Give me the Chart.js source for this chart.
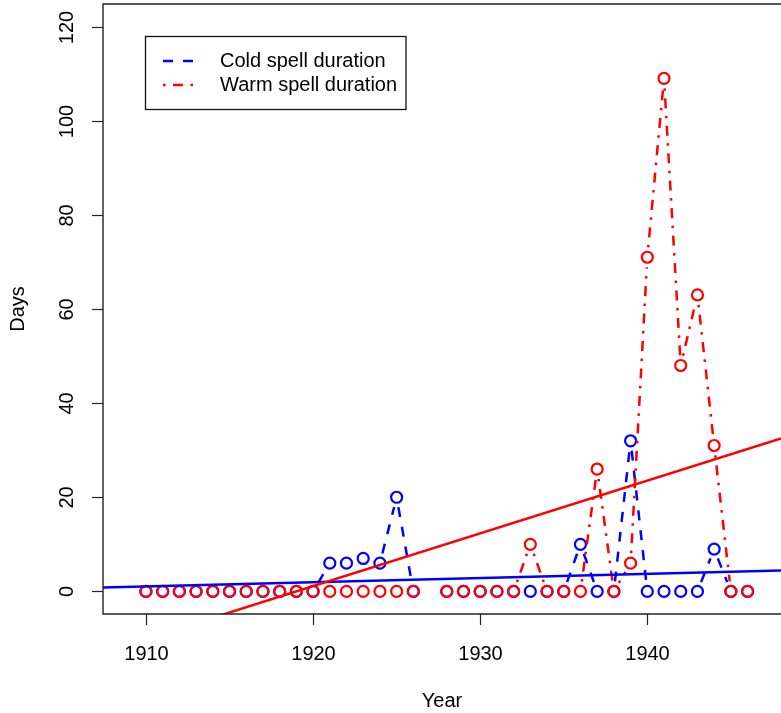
<!DOCTYPE html>
<html>
<head>
<meta charset="utf-8">
<script src="https://cdn.jsdelivr.net/npm/chart.js@4"></script>
<style>
  html, body { margin: 0; padding: 0; background: #fff; overflow: hidden; }
  #wrap { width: 781px; height: 713px; position: relative; }
  #myChart { display: block; }
</style>
</head>
<body>
<div id="wrap"><canvas id="myChart"></canvas></div>
<script>
// data
const years = [1910, 1911, 1912, 1913, 1914, 1915, 1916, 1917, 1918, 1919,
               1920, 1921, 1922, 1923, 1924, 1925, 1926, 1927, 1928, 1929,
               1930, 1931, 1932, 1933, 1934, 1935, 1936, 1937, 1938, 1939,
               1940, 1941, 1942, 1943, 1944, 1945, 1946];
const coldDays = [0, 0, 0, 0, 0, 0, 0, 0, 0, 0,
                  0, 6, 6, 7, 6, 20, 0, null, 0, 0,
                  0, 0, 0, 0, 0, 0, 10, 0, 0, 32,
                  0, 0, 0, 0, 9, 0, 0];
const warmDays = [0, 0, 0, 0, 0, 0, 0, 0, 0, 0,
                  0, 0, 0, 0, 0, 0, 0, null, 0, 0,
                  0, 0, 0, 10, 0, 0, 0, 26, 0, 6,
                  71, 109, 48, 63, 31, 0, 0];
const xTicks = [1910, 1920, 1930, 1940];
const yTicks = [0, 20, 40, 60, 80, 100, 120];
const seriesNames = ['Cold spell duration', 'Warm spell duration'];

const XMIN = 1907.43, XMAX = 1948.0;
const YMIN = -4.8, YMAX = 124.8;
const BLUE = '#0000ff', RED = '#ff0000';
const FONT = '20px "Liberation Sans", Arial, sans-serif';
const LWD = 2.5;
const GAP = 10; // R type="b" leaves a gap round each point

const pts = vals => years.map((y, i) => ({ x: y, y: vals[i] }));

// least squares line, like abline(lm(v ~ year))
function fit(vals) {
  const xs = [], ys = [];
  vals.forEach((v, i) => { if (v !== null) { xs.push(years[i]); ys.push(v); } });
  const n = xs.length;
  const mx = xs.reduce((a, b) => a + b, 0) / n;
  const my = ys.reduce((a, b) => a + b, 0) / n;
  let sxy = 0, sxx = 0;
  for (let i = 0; i < n; i++) {
    sxy += (xs[i] - mx) * (ys[i] - my);
    sxx += (xs[i] - mx) * (xs[i] - mx);
  }
  const b = sxy / sxx;
  const a = my - b * mx;
  return [{ x: XMIN, y: a + b * XMIN }, { x: XMAX, y: a + b * XMAX }];
}

// dash array for one segment so it stops GAP px short of both points
function gapDash(base, L) {
  const vis = L - 2 * GAP;
  if (vis <= 0) return [0, L];
  const arr = [0, GAP];
  if (!base) { arr.push(vis, GAP); return arr; }
  let rem = vis, i = 0;
  while (rem > 1e-6) {
    const d = Math.min(base[i % base.length], rem);
    arr.push(d);
    rem -= d;
    i++;
  }
  if (i % 2 === 1) arr.push(GAP); else arr.push(0, GAP);
  return arr;
}
const segDash = base => ctx => {
  const dx = ctx.p1.x - ctx.p0.x, dy = ctx.p1.y - ctx.p0.y;
  return gapDash(base, Math.sqrt(dx * dx + dy * dy));
};

const coldDash = [4 * LWD, 4 * LWD];
const warmDash = [1 * LWD, 3 * LWD, 4 * LWD, 3 * LWD];

// frame, ticks, labels, legend in the style of base R graphics
const rPlot = {
  id: 'rPlot',
  afterDraw(chart) {
    const { ctx, chartArea: ca, scales: { x, y } } = chart;
    ctx.save();
    ctx.strokeStyle = '#222';
    ctx.lineWidth = 1.4;
    ctx.beginPath();
    ctx.moveTo(ca.right + 2, ca.top);
    ctx.lineTo(ca.left, ca.top);
    ctx.lineTo(ca.left, ca.bottom);
    ctx.lineTo(ca.right + 2, ca.bottom);
    ctx.stroke();

    ctx.lineWidth = 1.2;
    ctx.fillStyle = '#000';
    ctx.font = FONT;
    ctx.textAlign = 'center';
    ctx.textBaseline = 'alphabetic';
    xTicks.forEach(v => {
      const px = Math.round(x.getPixelForValue(v)) + 0.5;
      ctx.beginPath();
      ctx.moveTo(px, ca.bottom);
      ctx.lineTo(px, ca.bottom + 11);
      ctx.stroke();
      ctx.fillText(String(v), px, 660);
    });
    yTicks.forEach(v => {
      const py = Math.round(y.getPixelForValue(v)) + 0.5;
      ctx.beginPath();
      ctx.moveTo(ca.left, py);
      ctx.lineTo(ca.left - 11, py);
      ctx.stroke();
      ctx.save();
      ctx.translate(73, py);
      ctx.rotate(-Math.PI / 2);
      ctx.fillText(String(v), 0, 0);
      ctx.restore();
    });
    ctx.fillText('Year', (ca.left + ca.right) / 2, 707);
    ctx.save();
    ctx.translate(24, (ca.top + ca.bottom) / 2);
    ctx.rotate(-Math.PI / 2);
    ctx.fillText('Days', 0, 0);
    ctx.restore();

    // legend box
    ctx.lineWidth = 1.3;
    ctx.strokeStyle = '#111';
    ctx.strokeRect(145.5, 36.5, 260.5, 73);
    const rows = [
      { name: seriesNames[0], color: BLUE, dash: coldDash, y: 61 },
      { name: seriesNames[1], color: RED, dash: warmDash, y: 85 }
    ];
    rows.forEach(r => {
      ctx.strokeStyle = r.color;
      ctx.lineWidth = LWD;
      ctx.setLineDash(r.dash);
      ctx.beginPath();
      ctx.moveTo(163, r.y);
      ctx.lineTo(195, r.y);
      ctx.stroke();
      ctx.setLineDash([]);
      ctx.textAlign = 'left';
      ctx.fillStyle = '#000';
      ctx.fillText(r.name, 220, r.y + 6);
    });
    ctx.restore();
  }
};

const ctx = document.getElementById('myChart');

new Chart(ctx, {
  type: 'line',
  data: {
    datasets: [
      {
        label: 'warm trend',
        data: fit(warmDays),
        borderColor: RED,
        borderWidth: LWD,
        pointRadius: 0,
        order: 0
      },
      {
        label: 'cold trend',
        data: fit(coldDays),
        borderColor: BLUE,
        borderWidth: LWD,
        pointRadius: 0,
        order: 1
      },
      {
        label: seriesNames[1],
        data: pts(warmDays),
        borderColor: RED,
        borderWidth: LWD,
        segment: { borderDash: segDash(warmDash) },
        pointRadius: 5.5,
        pointBorderWidth: 2.2,
        pointBorderColor: RED,
        pointBackgroundColor: 'rgba(0,0,0,0)',
        spanGaps: false,
        order: 2
      },
      {
        label: seriesNames[0],
        data: pts(coldDays),
        borderColor: BLUE,
        borderWidth: LWD,
        segment: { borderDash: segDash(coldDash) },
        pointRadius: 5.5,
        pointBorderWidth: 2.2,
        pointBorderColor: BLUE,
        pointBackgroundColor: 'rgba(0,0,0,0)',
        spanGaps: false,
        order: 3
      }
    ]
  },
  options: {
    responsive: true,
    maintainAspectRatio: false,
    animation: false,
    layout: { autoPadding: false, padding: { left: 103, top: 4, right: 0, bottom: 99 } },
    scales: {
      x: { type: 'linear', min: XMIN, max: XMAX, display: false },
      y: { type: 'linear', min: YMIN, max: YMAX, display: false }
    },
    plugins: {
      legend: { display: false },
      tooltip: { enabled: false }
    },
    elements: { line: { tension: 0 } }
  },
  plugins: [rPlot]
});
</script>
</body>
</html>
